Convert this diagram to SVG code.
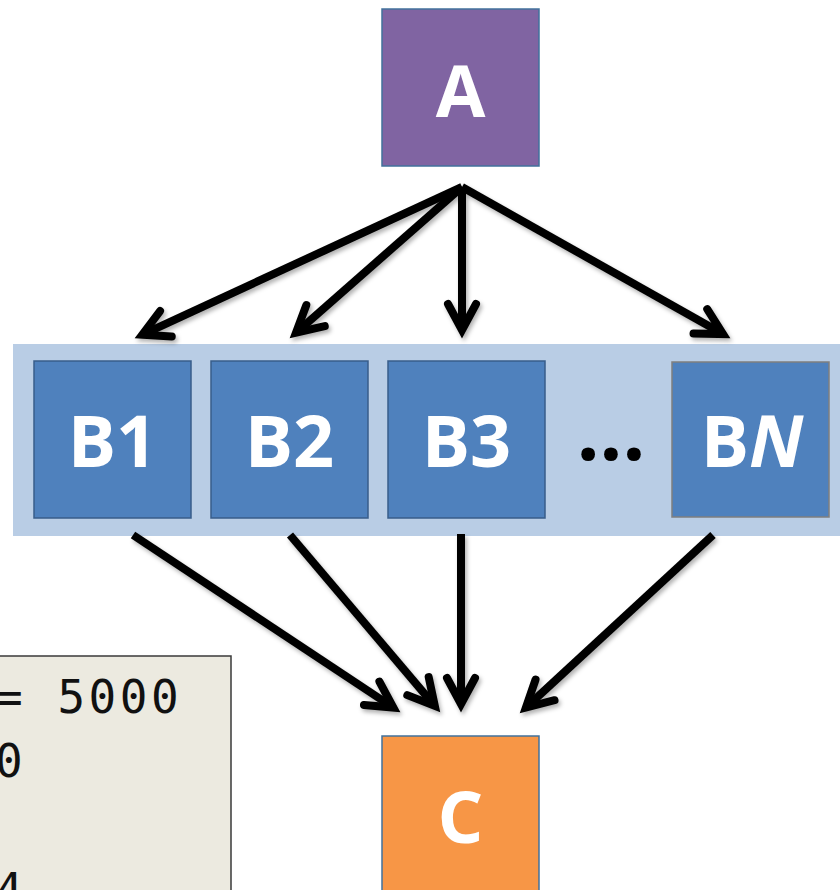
<svg xmlns="http://www.w3.org/2000/svg" width="840" height="890" viewBox="0 0 840 890">
  <style>
    .node { stroke-width: 1.5; }
    .blue { fill: #4F81BD; stroke: #385D8A; }
    .label { font-family: "Open Sans", "Noto Sans", "DejaVu Sans", sans-serif; font-weight: bold; font-size: 72px; fill: #FFFFFF; text-anchor: middle; }
    .code { font-family: "DejaVu Sans Mono", "Liberation Mono", monospace; font-size: 46px; letter-spacing: 3.5px; fill: #111111; }
    .conn { stroke: #000000; stroke-width: 8; fill: none; stroke-linecap: butt; marker-end: url(#chevron); }
  </style>
  <defs>
    <marker id="chevron" markerUnits="userSpaceOnUse" orient="auto" refX="0" refY="0" markerWidth="60" markerHeight="60" viewBox="-30 -30 60 60" overflow="visible">
      <path d="M-24,-14 L2,0 L-24,14" fill="none" stroke="#000000" stroke-width="8" stroke-linecap="round" stroke-linejoin="miter"/>
    </marker>
    <filter id="shadow" x="-10%" y="-10%" width="120%" height="120%">
      <feDropShadow dx="2" dy="3" stdDeviation="2" flood-color="#000000" flood-opacity="0.3"/>
    </filter>
  </defs>

  <rect width="840" height="890" fill="#FFFFFF"/>

  <!-- parallel stage band -->
  <rect id="band" x="13" y="344" width="840" height="192" fill="#B9CDE5"/>

  <!-- parameter listing -->
  <g id="params">
    <rect x="-10" y="656" width="241" height="250" fill="#ECEAE0" stroke="#3A3A3A" stroke-width="1.5"/>
    <text class="code" x="-5" y="713">= 5000</text>
    <text class="code" x="-5" y="777">0</text>
    <text class="code" x="-5" y="906">4</text>
  </g>

  <g id="A">
    <rect class="node" x="382" y="9" width="157" height="157" fill="#8064A2" stroke="#41719C"/>
    <text class="label" x="460.5" y="117">A</text>
  </g>

  <g id="B1">
    <rect class="node blue" x="34" y="361" width="157" height="157"/>
    <text class="label" x="112.5" y="467">B1</text>
  </g>

  <g id="B2">
    <rect class="node blue" x="211" y="361" width="157" height="157"/>
    <text class="label" x="289.5" y="467">B2</text>
  </g>

  <g id="B3">
    <rect class="node blue" x="388" y="361" width="157" height="157"/>
    <text class="label" x="466.5" y="467">B3</text>
  </g>

  <g id="ellipsis">
    <text x="611" y="460" font-family="Open Sans, Noto Sans, sans-serif" font-weight="bold" font-size="80" fill="#000000" text-anchor="middle">...</text>
  </g>

  <g id="BN">
    <rect class="node" x="672" y="362" width="157" height="155" fill="#4F81BD" stroke="#7F7F7F" stroke-width="2"/>
    <text class="label" x="752" y="467">B<tspan font-style="italic">N</tspan></text>
  </g>

  <g id="C">
    <rect class="node" x="382" y="736" width="157" height="170" fill="#F79646" stroke="#41719C"/>
    <text class="label" x="460.5" y="843">C</text>
  </g>

  <!-- connectors -->
  <g id="connectors" filter="url(#shadow)">
    <path class="conn" d="M462,187 L144.1,333.8"/>
    <path class="conn" d="M462,187 L297.5,331.4"/>
    <path class="conn" d="M462,187 L462,328"/>
    <path class="conn" d="M462,187 L721.3,333.1"/>
    <path class="conn" d="M133,535 L391.7,706.5"/>
    <path class="conn" d="M290,535 L433.5,704.4"/>
    <path class="conn" d="M461,534 L461,702"/>
    <path class="conn" d="M713,535 L527.4,706.2"/>
  </g>
</svg>
